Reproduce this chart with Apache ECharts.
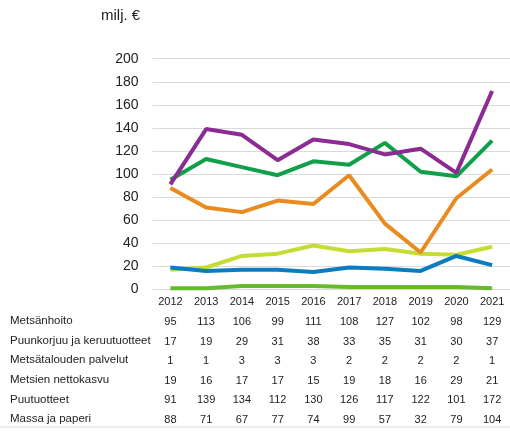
<!DOCTYPE html>
<html><head><meta charset="utf-8">
<script src="https://cdn.jsdelivr.net/npm/echarts@6/dist/echarts.min.js"></script>
<style>html,body{margin:0;padding:0;background:#fff}#c{width:510px;height:431px}</style>
</head><body><div id="c"></div>
<script>
const years = ['2012','2013','2014','2015','2016','2017','2018','2019','2020','2021'];
const yTicks = [0,20,40,60,80,100,120,140,160,180,200];
const metsanhoito = [95,113,106,99,111,108,127,102,98,129];
const puunkorjuu = [17,19,29,31,38,33,35,31,30,37];
const palvelut = [1,1,3,3,3,2,2,2,2,1];
const nettokasvu = [19,16,17,17,15,19,18,16,29,21];
const puutuotteet = [91,139,134,112,130,126,117,122,101,172];
const massa = [88,71,67,77,74,99,57,32,79,104];
const names = ['Metsänhoito','Puunkorjuu ja keruutuotteet','Metsätalouden palvelut','Metsien nettokasvu','Puutuotteet','Massa ja paperi'];
const rows = [metsanhoito,puunkorjuu,palvelut,nettokasvu,puutuotteet,massa];
const colors = ['#11a04a','#c5dc34','#66bb2c','#0c7cc0','#8c2b93','#e98b1f'];

const FONT = 'Liberation Sans';
const gridLeft = 152.5, gridTop = 58.7, gridH = 230.7, rowGap = 19.6;

const xAxes = [{
  type:'category', data: years, boundaryGap:true, gridIndex:0,
  axisLine:{show:false}, axisTick:{show:false},
  axisLabel:{margin:7, fontFamily:FONT, fontSize:11, color:'#222'}
}];
rows.forEach((r,k)=>{
  xAxes.push({
    type:'category', data: years, gridIndex:0, position:'bottom', offset:(k+1)*rowGap,
    axisLine:{show:false}, axisTick:{show:false},
    axisLabel:{margin:7.5, fontFamily:FONT, fontSize:11, color:'#222', formatter:(v,i)=>String(r[i])}
  });
});

const graphics = [{type:'text', left:101, top:8, style:{text:'milj. €', font:'15px '+FONT, fill:'#222'}},
  {type:'line', shape:{x1:0,y1:427,x2:510,y2:427}, style:{stroke:'#d9d9d9', lineWidth:1}}];
names.forEach((n,k)=>{
  graphics.push({type:'text', left:10, top: gridTop+gridH+7+(k+1)*rowGap - 1, style:{text:n, font:'11.5px '+FONT, fill:'#222'}});
});

const chart = echarts.init(document.getElementById('c'), null, {renderer:'canvas'});
chart.setOption({
  animation:false,
  grid:{left:gridLeft, top:gridTop, height:gridH, width:363, containLabel:false},
  xAxis: xAxes,
  yAxis:{type:'value', min:yTicks[0], max:yTicks[yTicks.length-1], interval:20,
    axisLine:{show:false}, axisTick:{show:false},
    axisLabel:{margin:14, fontFamily:FONT, fontSize:14, color:'#222'},
    splitLine:{lineStyle:{color:'#d9d9d9', width:1}}},
  series: rows.map((r,k)=>({
    name:names[k], type:'line', data:r, showSymbol:false, symbol:'none',
    lineStyle:{color:colors[k], width:4}, itemStyle:{color:colors[k]}
  })),
  graphic: graphics
});
</script></body></html>
